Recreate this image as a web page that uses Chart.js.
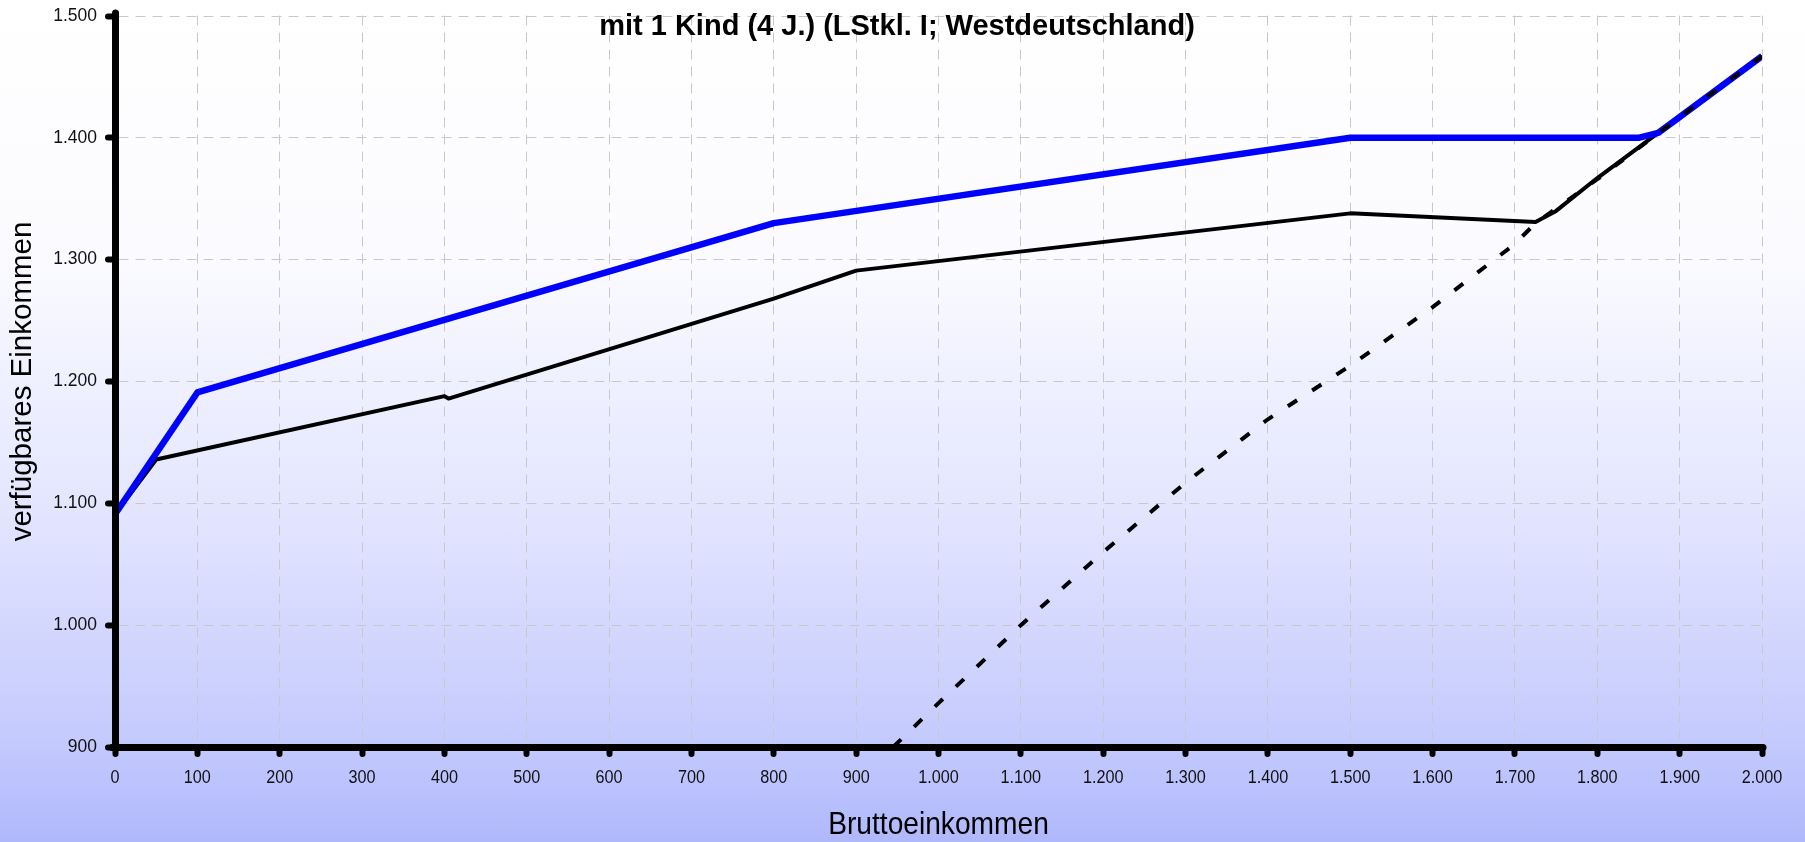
<!DOCTYPE html>
<html>
<head>
<meta charset="utf-8">
<script src="https://cdn.jsdelivr.net/npm/chart.js@4"></script>
<style>
html,body{margin:0;padding:0;background:#fff;}
#wrap{width:1805px;height:842px;background:linear-gradient(to bottom,#ffffff 0%,#fbfbff 30%,#e4e6ff 60%,#c4cafd 88%,#b0b8fc 100%);}
canvas{display:block;}
</style>
</head>
<body>
<div id="wrap"><canvas id="c" width="1805" height="842"></canvas></div>
<script>
// ---- text ----
const titleText = 'mit 1 Kind (4 J.) (LStkl. I; Westdeutschland)';
const xAxisTitle = 'Bruttoeinkommen';
const yAxisTitle = 'verfügbares Einkommen';

// ---- ticks ----
const xTickValues = [0,100,200,300,400,500,600,700,800,900,1000,1100,1200,1300,1400,1500,1600,1700,1800,1900,2000];
const xTickLabels = ['0','100','200','300','400','500','600','700','800','900','1.000','1.100','1.200','1.300','1.400','1.500','1.600','1.700','1.800','1.900','2.000'];
const yTickValues = [900,1000,1100,1200,1300,1400,1500];
const yTickLabels = ['900','1.000','1.100','1.200','1.300','1.400','1.500'];

// ---- series ----
const blueX  = [0, 100, 800, 1500, 1850, 1874, 2000];
const blueY  = [1091, 1191, 1330, 1400, 1400, 1404, 1467];
const blackX = [0, 50, 400, 405, 800, 900, 1500, 1725, 1750, 1800, 1874, 2000];
const blackY = [1091, 1136, 1188, 1186, 1268, 1291, 1338, 1331, 1340, 1367, 1404, 1467];
const dashX  = [945, 1000, 1100, 1200, 1300, 1400, 1500, 1600, 1700, 1725, 1800, 1900, 2000];
const dashY  = [900, 936, 1000, 1060, 1117, 1169, 1213, 1261, 1313, 1330, 1366, 1417, 1467];

const pts = (xs, ys) => xs.map((x, i) => ({x: x, y: ys[i]}));

const REG = "'Liberation Sans', Arial, sans-serif";
const XTICK_FAMILY = "TickSim, 'Liberation Sans', Arial, sans-serif";
const AXIS_TITLE_FAMILY = "SemiSim, 'Liberation Sans', Arial, sans-serif";
const SQUEEZE = { TickSim: 0.9, SemiSim: 0.88 };

const canvas = document.getElementById('c');
const ctx = canvas.getContext('2d');
const origFill = ctx.fillText.bind(ctx);
const origMeasure = ctx.measureText.bind(ctx);
function squeezeFor(font) {
  for (const k in SQUEEZE) if (font.indexOf(k) >= 0) return SQUEEZE[k];
  return 1;
}
ctx.fillText = function (text, x, y, maxWidth) {
  const f = squeezeFor(this.font);
  if (f !== 1) {
    this.save();
    this.translate(x, y);
    this.scale(f, 1);
    if (maxWidth === undefined) origFill(text, 0, 0); else origFill(text, 0, 0, maxWidth / f);
    this.restore();
  } else if (maxWidth === undefined) {
    origFill(text, x, y);
  } else {
    origFill(text, x, y, maxWidth);
  }
};
ctx.measureText = function (text) {
  const m = origMeasure(text);
  const f = squeezeFor(this.font);
  if (f !== 1) {
    return { width: m.width * f, actualBoundingBoxAscent: m.actualBoundingBoxAscent,
             actualBoundingBoxDescent: m.actualBoundingBoxDescent };
  }
  return m;
};

const roundCaps = { id: 'roundCaps', beforeDraw(chart) { chart.ctx.lineCap = 'round'; } };

new Chart(ctx, {
  type: 'line',
  data: {
    datasets: [
      { data: pts(dashX, dashY), borderColor: '#000', borderWidth: 4, borderDash: [11, 18],
        pointRadius: 0, tension: 0, fill: false, borderCapStyle: 'butt' },
      { data: pts(blueX, blueY), borderColor: '#0000ff', borderWidth: 6.5, pointRadius: 0,
        tension: 0, fill: false, borderJoinStyle: 'round' },
      { data: pts(blackX, blackY), borderColor: '#000', borderWidth: 4, pointRadius: 0,
        tension: 0, fill: false, borderJoinStyle: 'round' }
    ]
  },
  options: {
    responsive: false,
    animation: false,
    devicePixelRatio: 1,
    layout: { autoPadding: false, padding: { top: 16, right: 43, left: 32, bottom: 0 } },
    plugins: {
      legend: { display: false },
      tooltip: { enabled: false },
      title: {
        display: true, text: titleText, color: '#000',
        font: { family: REG, size: 29, weight: 'bold', lineHeight: 1.2 },
        padding: { top: -6.1, bottom: -28.7 }
      }
    },
    scales: {
      x: {
        type: 'linear', min: 0, max: 2000,
        afterFit(s) { s.height = 95; s.paddingLeft = 0; s.paddingRight = 0; s.paddingTop = 0; s.paddingBottom = 0; },
        afterBuildTicks(s) { s.ticks = xTickValues.map(v => ({value: v})); },
        ticks: {
          color: '#111', padding: 13, maxRotation: 0, minRotation: 0, autoSkip: false,
          font: { family: XTICK_FAMILY, size: 18 },
          callback: (v) => { const i = xTickValues.indexOf(v); return i >= 0 ? xTickLabels[i] : ''; }
        },
        grid: { color: '#c8c8c8', lineWidth: 1, tickColor: '#000', tickWidth: 6, tickLength: 7 },
        border: { display: true, color: '#000', width: 7, dash: [9, 8], z: 1 },
        title: { display: true, text: xAxisTitle, color: '#000',
          font: { family: AXIS_TITLE_FAMILY, size: 32, lineHeight: 1.2 }, padding: { top: 0, bottom: -2.8 } }
      },
      y: {
        type: 'linear', min: 900, max: 1500,
        afterFit(s) { s.width = 83; s.paddingLeft = 0; s.paddingRight = 0; s.paddingTop = 0; s.paddingBottom = 0; },
        afterBuildTicks(s) { s.ticks = yTickValues.map(v => ({value: v})); },
        ticks: {
          color: '#111', padding: 11, autoSkip: false,
          font: { family: REG, size: 17.5 },
          callback: (v) => { const i = yTickValues.indexOf(v); return i >= 0 ? yTickLabels[i] : ''; }
        },
        grid: { color: '#c8c8c8', lineWidth: 1, tickColor: '#000', tickWidth: 6, tickLength: 7 },
        border: { display: true, color: '#000', width: 7, dash: [9, 8], z: 1 },
        title: { display: true, text: yAxisTitle, color: '#000',
          font: { family: REG, size: 29.5, lineHeight: 1.2 }, padding: { top: -26.5, bottom: 0 } }
      }
    }
  },
  plugins: [roundCaps]
});
</script>
</body>
</html>
